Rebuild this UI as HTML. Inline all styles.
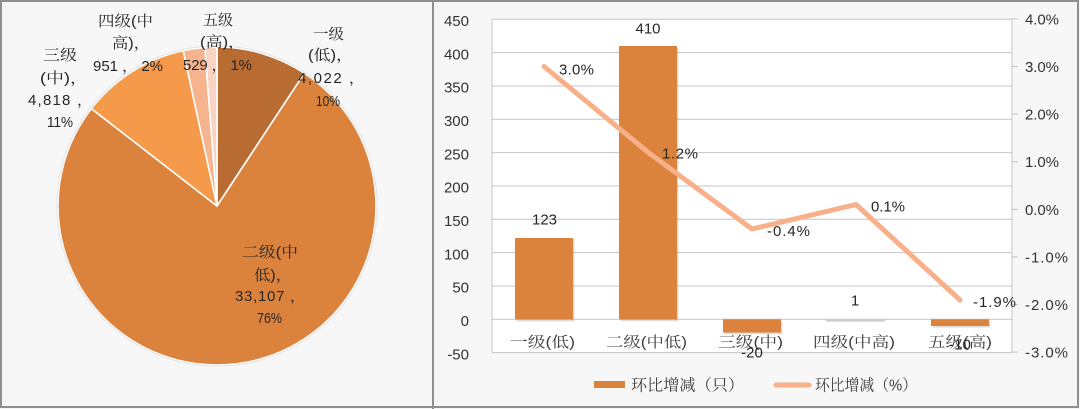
<!DOCTYPE html>
<html><head><meta charset="utf-8"><style>
html,body{margin:0;padding:0;background:#f7f7f7;}
svg{display:block;}
.cj{font-family:"Liberation Sans","Noto Serif CJK SC",serif;fill:#262626;font-size:15px;}
.ax{font-family:"Liberation Sans","Noto Sans CJK SC",sans-serif;fill:#333;font-size:15px;}
</style></head><body>
<svg width="1080" height="409" viewBox="0 0 1080 409" xmlns="http://www.w3.org/2000/svg">
<rect x="0" y="0" width="1080" height="409" fill="#f7f7f7"/>
<!-- frame -->
<rect x="1" y="1" width="1077" height="406" fill="none" stroke="#8f8f8f" stroke-width="2"/>
<line x1="433" y1="0" x2="433" y2="409" stroke="#8f8f8f" stroke-width="2"/>

<!-- PIE -->
<g stroke="#ffffff" stroke-width="1.6" stroke-linejoin="round">
<path d="M217,206 L217,47 A159,159 0 0 1 304.39,73.17 Z" fill="#B96C31"/>
<path d="M217,206 L304.39,73.17 A159,159 0 1 1 91.33,108.60 Z" fill="#DB833D"/>
<path d="M217,206 L91.33,108.60 A159,159 0 0 1 183.21,50.62 Z" fill="#F59A4B"/>
<path d="M217,206 L183.21,50.62 A159,159 0 0 1 204.83,47.47 Z" fill="#F5B48D"/>
<path d="M217,206 L204.83,47.47 A159,159 0 0 1 217,47 Z" fill="#F9D3C3"/>
</g>
<circle cx="217" cy="206" r="160" fill="none" stroke="#e2e2e2" stroke-width="1"/>

<g class="cj">
<text x="98" y="26" textLength="55" lengthAdjust="spacingAndGlyphs">四级(中</text>
<text x="112" y="48" textLength="38" lengthAdjust="spacingAndGlyphs">高)，</text>
<text x="93" y="71" textLength="70" lengthAdjust="spacing">951 ， 2%</text>

<text x="203" y="25" textLength="30" lengthAdjust="spacingAndGlyphs">五级</text>
<text x="200" y="47" textLength="45" lengthAdjust="spacingAndGlyphs">(高)，</text>
<text x="183" y="70" textLength="69" lengthAdjust="spacing">529 ， 1%</text>

<text x="313" y="39" textLength="31" lengthAdjust="spacingAndGlyphs">一级</text>
<text x="308" y="60" textLength="45" lengthAdjust="spacingAndGlyphs">(低)，</text>
<text x="298" y="83" textLength="66" lengthAdjust="spacing">4,022 ，</text>
<text x="316" y="106" textLength="24" lengthAdjust="spacingAndGlyphs">10%</text>

<text x="43" y="60" textLength="34" lengthAdjust="spacingAndGlyphs">三级</text>
<text x="40" y="83" textLength="48" lengthAdjust="spacingAndGlyphs">(中)，</text>
<text x="28" y="105" textLength="64" lengthAdjust="spacing">4,818 ，</text>
<text x="47" y="127" textLength="26" lengthAdjust="spacingAndGlyphs">11%</text>

<text x="242" y="257" textLength="56" lengthAdjust="spacingAndGlyphs">二级(中</text>
<text x="254" y="280" textLength="38" lengthAdjust="spacingAndGlyphs">低)，</text>
<text x="235" y="301" textLength="70" lengthAdjust="spacing">33,107 ，</text>
<text x="257" y="323" textLength="25" lengthAdjust="spacingAndGlyphs">76%</text>
</g>

<!-- BAR/LINE CHART -->
<rect x="492" y="19.3" width="520" height="333.3" fill="#ffffff"/>
<g stroke="#c4c4c4" stroke-width="1">
<line x1="492" y1="19.3" x2="1012" y2="19.3"/>
<line x1="492" y1="52.6" x2="1012" y2="52.6"/>
<line x1="492" y1="86" x2="1012" y2="86"/>
<line x1="492" y1="119.3" x2="1012" y2="119.3"/>
<line x1="492" y1="152.6" x2="1012" y2="152.6"/>
<line x1="492" y1="186" x2="1012" y2="186"/>
<line x1="492" y1="219.3" x2="1012" y2="219.3"/>
<line x1="492" y1="252.6" x2="1012" y2="252.6"/>
<line x1="492" y1="286" x2="1012" y2="286"/>
<line x1="492" y1="319.3" x2="1012" y2="319.3"/>
<line x1="492" y1="352.6" x2="1012" y2="352.6"/>
<line x1="492" y1="19.3" x2="492" y2="352.6"/>
<line x1="1012" y1="19.3" x2="1012" y2="352.6"/>
<line x1="1012" y1="18.9" x2="1018" y2="18.9"/>
<line x1="1012" y1="66.5" x2="1018" y2="66.5"/>
<line x1="1012" y1="114.1" x2="1018" y2="114.1"/>
<line x1="1012" y1="161.7" x2="1018" y2="161.7"/>
<line x1="1012" y1="209.3" x2="1018" y2="209.3"/>
<line x1="1012" y1="256.9" x2="1018" y2="256.9"/>
<line x1="1012" y1="304.5" x2="1018" y2="304.5"/>
<line x1="1012" y1="352.1" x2="1018" y2="352.1"/>
</g>

<!-- left axis labels -->
<g class="ax" text-anchor="end">
<text x="469" y="26">450</text>
<text x="469" y="59.3">400</text>
<text x="469" y="92.6">350</text>
<text x="469" y="126">300</text>
<text x="469" y="159.3">250</text>
<text x="469" y="192.6">200</text>
<text x="469" y="226">150</text>
<text x="469" y="259.3">100</text>
<text x="469" y="292.6">50</text>
<text x="469" y="326">0</text>
<text x="469" y="359.3">-50</text>
</g>
<!-- right axis labels -->
<g class="ax">
<text x="1025" y="24.5" textLength="34" lengthAdjust="spacing">4.0%</text>
<text x="1025" y="72" textLength="34" lengthAdjust="spacing">3.0%</text>
<text x="1025" y="119.6" textLength="34" lengthAdjust="spacing">2.0%</text>
<text x="1025" y="167.2" textLength="34" lengthAdjust="spacing">1.0%</text>
<text x="1025" y="214.8" textLength="34" lengthAdjust="spacing">0.0%</text>
<text x="1025" y="262.4" textLength="43" lengthAdjust="spacing">-1.0%</text>
<text x="1025" y="310" textLength="43" lengthAdjust="spacing">-2.0%</text>
<text x="1025" y="357.6" textLength="43" lengthAdjust="spacing">-3.0%</text>
</g>

<!-- bar shadows -->
<g fill="#000" opacity="0.12">
<rect x="516.5" y="239.5" width="58" height="82"/>
<rect x="620.5" y="48" width="58" height="273.3"/>
<rect x="724.5" y="321" width="58" height="13.3"/>
<rect x="932.5" y="321" width="58" height="6.7"/>
</g>
<!-- bars -->
<g fill="#DB833D">
<rect x="515" y="238" width="58" height="81.3"/>
<rect x="619" y="46" width="58" height="273.3"/>
<rect x="723" y="319.3" width="58" height="13.3"/>
<rect x="931" y="319.3" width="58" height="6.7"/>
</g>
<line x1="826" y1="320.8" x2="885" y2="320.8" stroke="#cfcfcf" stroke-width="2"/>

<!-- category labels -->
<g class="cj" text-anchor="middle" style="fill:#404040">
<text x="542.5" y="347" textLength="65" lengthAdjust="spacingAndGlyphs">一级(低)</text>
<text x="646.5" y="347" textLength="81" lengthAdjust="spacingAndGlyphs">二级(中低)</text>
<text x="750.5" y="347" textLength="65" lengthAdjust="spacingAndGlyphs">三级(中)</text>
<text x="854" y="347" textLength="82" lengthAdjust="spacingAndGlyphs">四级(中高)</text>
<text x="960" y="347" textLength="64" lengthAdjust="spacingAndGlyphs">五级(高)</text>
</g>

<!-- line -->
<polyline points="544,66.5 648,152.2 752,229 856,204.5 960,300" fill="none" stroke="#F7B08A" stroke-width="5" stroke-linejoin="round" stroke-linecap="round"/>

<!-- bar value labels -->
<g class="ax" text-anchor="middle" style="fill:#262626">
<text x="544.5" y="224.5">123</text>
<text x="648" y="33.5">410</text>
<text x="752" y="357.5">-20</text>
<text x="855" y="305.5">1</text>
<text x="960" y="349.5">-10</text>
</g>
<!-- line value labels -->
<g class="ax" style="fill:#262626">
<text x="559" y="74.5" textLength="35" lengthAdjust="spacing">3.0%</text>
<text x="662" y="158.5" textLength="36" lengthAdjust="spacing">1.2%</text>
<text x="767" y="236" textLength="43" lengthAdjust="spacing">-0.4%</text>
<text x="871" y="211.5" textLength="34" lengthAdjust="spacing">0.1%</text>
<text x="973" y="307" textLength="43" lengthAdjust="spacing">-1.9%</text>
</g>

<!-- legend -->
<rect x="594" y="381" width="31" height="7" fill="#DB833D"/>
<text class="cj" x="631" y="390.5" textLength="113" lengthAdjust="spacingAndGlyphs" style="font-size:16px;fill:#404040">环比增减（只）</text>
<line x1="776" y1="385" x2="809" y2="385" stroke="#F7B08A" stroke-width="5" stroke-linecap="round"/>
<text class="cj" x="815" y="390.5" textLength="102" lengthAdjust="spacingAndGlyphs" style="font-size:16px;fill:#404040">环比增减（%）</text>
</svg>
</body></html>
